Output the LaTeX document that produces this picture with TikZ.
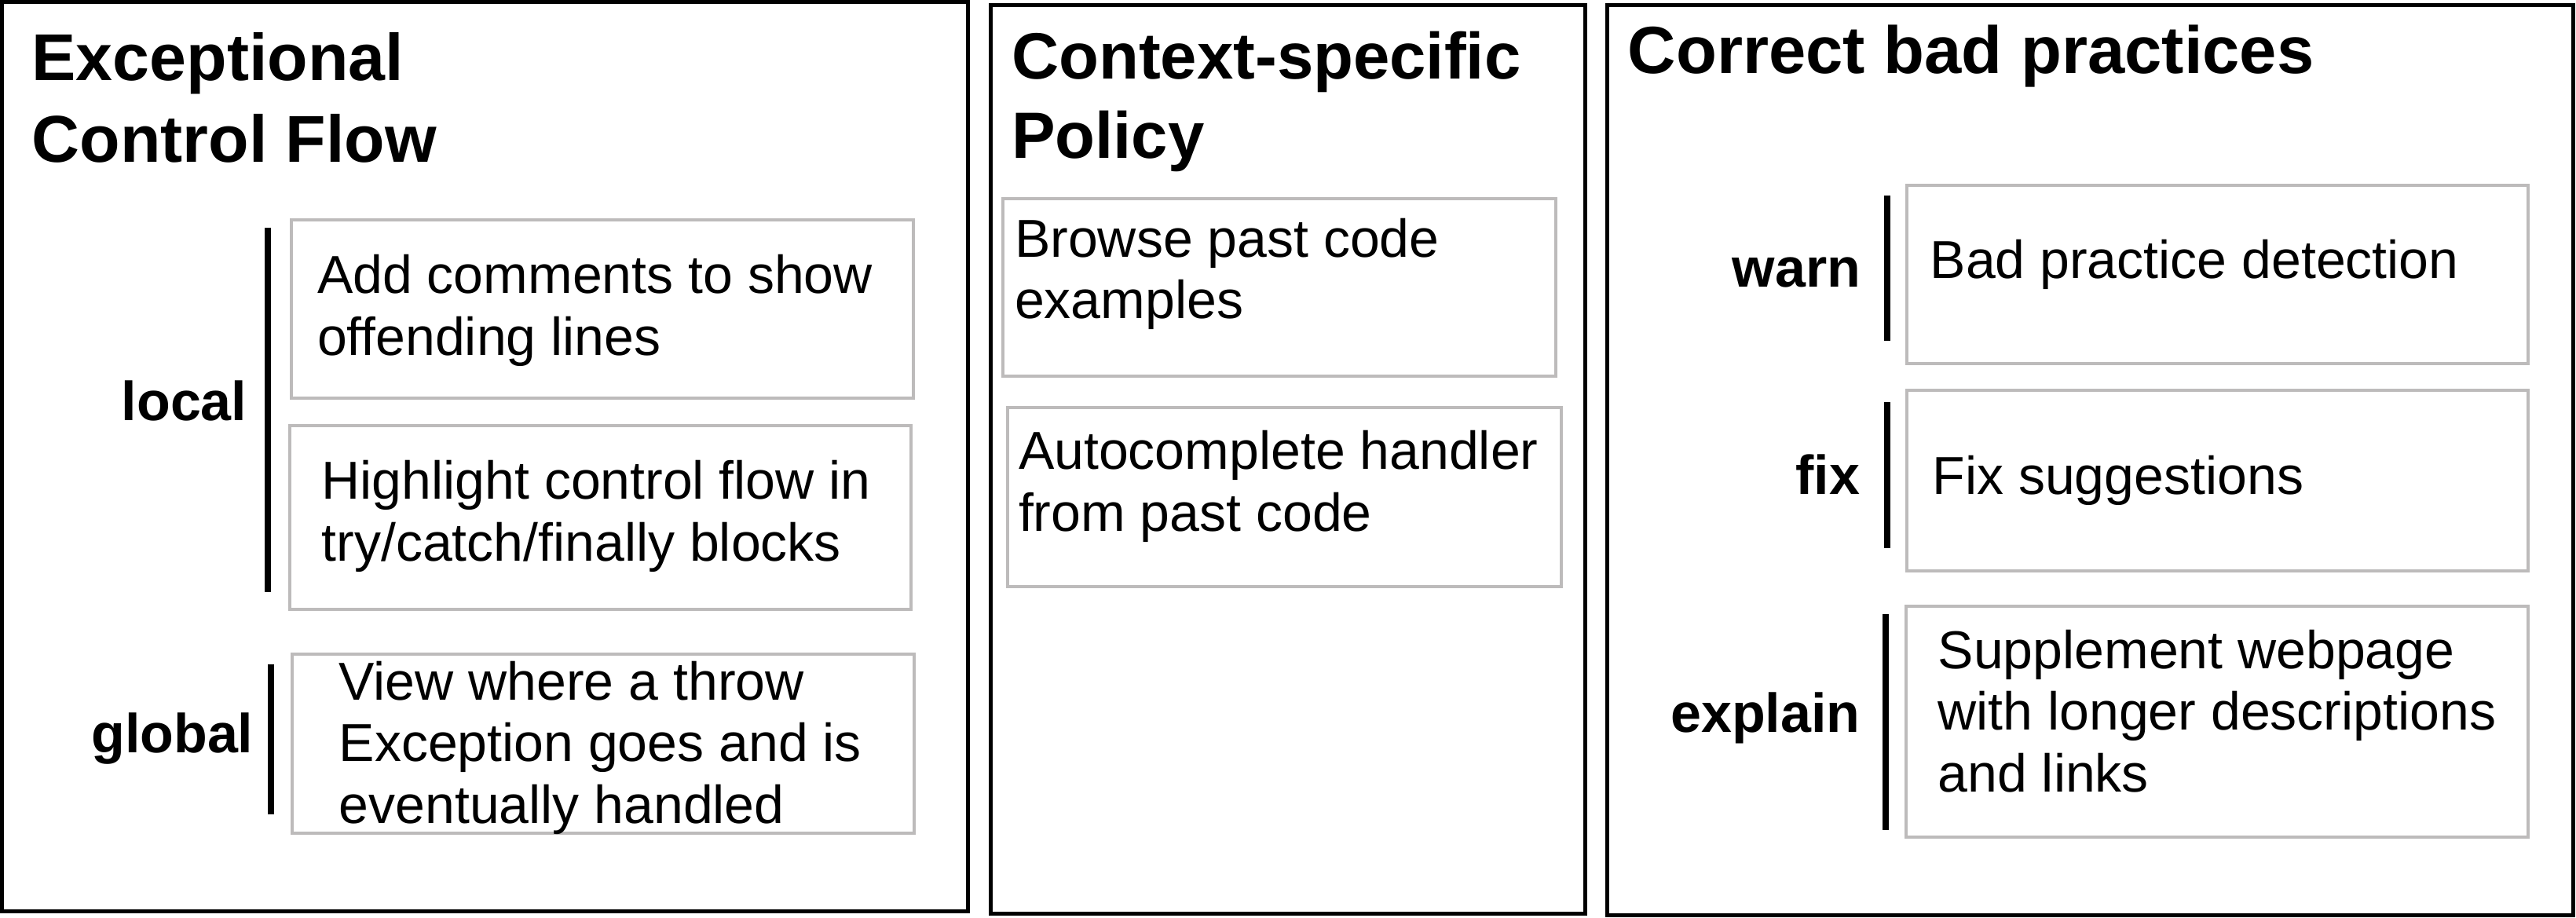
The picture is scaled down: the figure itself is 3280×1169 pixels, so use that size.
\documentclass[tikz,border=0pt]{standalone}
\usepackage{fontspec}
\setmainfont{Liberation Sans}
\usetikzlibrary{fit}
\definecolor{boxgray}{HTML}{BDBBBB}
\begin{document}
\begin{tikzpicture}[x=0.3pt,y=-0.3pt,
  panel/.style={draw=black,line width=1.5pt},
  gbox/.style={draw=boxgray,line width=1.2pt,inner sep=0pt,rectangle},
  bar/.style={line width=2.4pt},
  ttl/.style={anchor=base west,inner sep=0pt,align=left},
  lbl/.style={anchor=base east,inner sep=0pt,font=\bfseries\fontsize{21}{25}\selectfont},
  txt/.style={anchor=base west,inner sep=0pt,align=left,font=\fontsize{20.4}{23.55}\selectfont}]
\useasboundingbox (0,0) rectangle (3280,1169);
% panels
\draw[panel] (2.5,2.5) rectangle (1232,1160);
\draw[panel] (1261,6.5) rectangle (2018,1163);
\draw[panel] (2046,7) rectangle (3276,1165);
% titles (base = baseline of last line)
\node[ttl,font=\bfseries\fontsize{25.3}{31.2}\selectfont] (t1) at (40,206.7) {Exceptional\\Control Flow};
\node[ttl,font=\bfseries\fontsize{25}{30.2}\selectfont] (t2) at (1287.4,201.3) {Context-specific\\Policy};
\node[ttl,font=\bfseries\fontsize{25.5}{30.6}\selectfont] (t3) at (2072,93.8) {Correct bad practices};
% gray boxes
\node[gbox,fit={(370.6,280) (1163,507)}] (bA) {};
\node[gbox,fit={(368.7,542) (1160,776)}] (bB) {};
\node[gbox,fit={(371.8,833) (1164,1061)}] (bC) {};
\node[gbox,fit={(1276.5,253) (1981,479)}] (bD) {};
\node[gbox,fit={(1283,519) (1988,747)}] (bE) {};
\node[gbox,fit={(2427.7,235.6) (3219,463)}] (bF) {};
\node[gbox,fit={(2427.7,497) (3219,727)}] (bG) {};
\node[gbox,fit={(2426.7,771.5) (3219,1066)}] (bH) {};
% box texts (base = baseline of last line)
\node[txt] (xA) at (403.5,452.4) {Add comments to show\\offending lines};
\node[txt] (xB) at (409,714.4) {Highlight control flow in\\try/catch/finally blocks};
\node[txt] (xC) at (431,1048) {View where a throw\\Exception goes and is\\eventually handled};
\node[txt] (xD) at (1291.5,405.8) {Browse past code\\examples};
\node[txt] (xE) at (1296.4,676) {Autocomplete handler\\from past code};
\node[txt] (xF) at (2457,354.3) {Bad practice detection};
\node[txt] (xG) at (2460,629.6) {Fix suggestions};
\node[txt] (xH) at (2467,1008) {Supplement webpage\\with longer descriptions\\and links};
% labels
\node[lbl] (lLocal) at (315,535.8) {local};
\node[lbl] (lGlobal) at (323,958) {global};
\node[lbl] (lWarn) at (2370,366) {warn};
\node[lbl] (lFix) at (2369,629.6) {fix};
\node[lbl] (lExplain) at (2369,932.4) {explain};
% bars
\draw[bar] (341,290.5) -- (341,754);
\draw[bar] (345,846) -- (345,1037);
\draw[bar] (2403,249) -- (2403,434);
\draw[bar] (2403,512) -- (2403,698);
\draw[bar] (2401,781.5) -- (2401,1057);
\end{tikzpicture}
\end{document}
